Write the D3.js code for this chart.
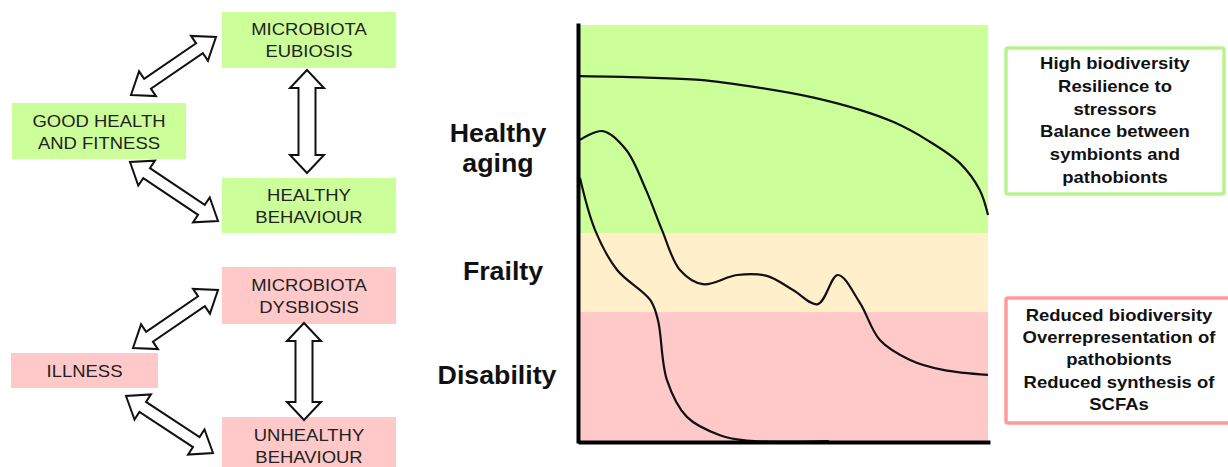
<!DOCTYPE html>
<html>
<head>
<meta charset="utf-8">
<script src="https://cdn.jsdelivr.net/npm/d3@7"></script>
<style>
  body { margin: 0; background: #fff; }
  svg { display: block; font-family: "Liberation Sans", Arial, sans-serif; }
</style>
</head>
<body>
<svg width="1228" height="467"></svg>
<script>
// band categories (y units 0-100) and their colours
var bandNames = ['Disability', 'Frailty', 'Healthy aging'];
var bandEdges = [0, 31, 50, 100];
var bandColors = ['#ffc9c9', '#fff0cb', '#ccff99'];

// three trajectories, x = time (0-100), y = health (0-100)
var curveHealthy = [[0, 87.7], [15, 87.4], [29.4, 86.8], [44.1, 84.9], [57, 82.6], [68.6, 79.6], [77, 76.6], [85, 72.4], [93.1, 66.8], [98, 60.3], [100, 54.3]];
var curveFrail = [[0, 72.4], [5.6, 74.5], [11.3, 70.0], [16.2, 60.3], [20.1, 50.7], [24.5, 41.1], [30.1, 37.7], [38.5, 39.9], [45.8, 39.7], [52.2, 36.3], [58.3, 32.9], [63.2, 39.9], [68.6, 33.2], [73.5, 24.3], [80.9, 19.5], [89.0, 17.1], [100, 15.9]];
var curveDisabled = [[0, 63.2], [3.7, 50.7], [9.1, 41.1], [17.2, 33.9], [19.1, 29.1], [21.3, 14.7], [26.2, 5.8], [34.3, 1.4], [40.9, 0.1], [61, 0]];

var goodLabels = [['MICROBIOTA', 'EUBIOSIS'], ['GOOD HEALTH', 'AND FITNESS'], ['HEALTHY', 'BEHAVIOUR']];
var badLabels = [['MICROBIOTA', 'DYSBIOSIS'], ['ILLNESS'], ['UNHEALTHY', 'BEHAVIOUR']];
var goodTraits = ['High biodiversity', 'Resilience to', 'stressors', 'Balance between', 'symbionts and', 'pathobionts'];
var badTraits = ['Reduced biodiversity', 'Overrepresentation of', 'pathobionts', 'Reduced synthesis of', 'SCFAs'];

var svg = d3.select('svg');

// ---------- left diagram ----------
// box layout: x, y, w, h, first baseline
var goodBoxes = [
  { x: 222, y: 12, w: 174, h: 56, b: 35 },
  { x: 12, y: 103, w: 174, h: 56, b: 127 },
  { x: 222, y: 178, w: 174, h: 55, b: 201 }
];
var badBoxes = [
  { x: 222, y: 267, w: 174, h: 57, b: 291 },
  { x: 11, y: 353, w: 147, h: 35, b: 377 },
  { x: 222, y: 417, w: 174, h: 60, b: 441 }
];

function drawBoxes(boxes, labels, fill) {
  var g = svg.append('g');
  boxes.forEach(function (b, i) {
    g.append('rect')
      .attr('x', b.x).attr('y', b.y)
      .attr('width', b.w).attr('height', b.h)
      .attr('fill', fill);
    labels[i].forEach(function (t, j) {
      g.append('text')
        .attr('transform', 'translate(' + (b.x + b.w / 2) + ',' + (b.b + j * 22) + ') scale(1.12,1)')
        .attr('text-anchor', 'middle')
        .attr('font-size', 16.5)
        .attr('fill', '#222')
        .text(t);
    });
  });
}
drawBoxes(goodBoxes, goodLabels, '#ccff99');
drawBoxes(badBoxes, badLabels, '#ffc9c9');

// double headed block arrows
function arrowPoints(p1, p2, sw, hw, hl) {
  var dx = p2[0] - p1[0], dy = p2[1] - p1[1];
  var len = Math.sqrt(dx * dx + dy * dy);
  var ux = dx / len, uy = dy / len, nx = -uy, ny = ux;
  function pt(base, along, side) {
    return [base[0] + ux * along + nx * side, base[1] + uy * along + ny * side];
  }
  return [
    p1,
    pt(p1, hl, hw / 2), pt(p1, hl, sw / 2),
    pt(p2, -hl, sw / 2), pt(p2, -hl, hw / 2),
    p2,
    pt(p2, -hl, -hw / 2), pt(p2, -hl, -sw / 2),
    pt(p1, hl, -sw / 2), pt(p1, hl, -hw / 2)
  ];
}

var arrows = [
  { a: [131, 95], b: [216, 37], sw: 12, hw: 30, hl: 20 },
  { a: [307, 70], b: [307, 173], sw: 17, hw: 34, hl: 18 },
  { a: [130, 162], b: [218, 221], sw: 12, hw: 30, hl: 20 },
  { a: [133, 348], b: [218, 290], sw: 12, hw: 30, hl: 20 },
  { a: [304, 323], b: [304, 420], sw: 17, hw: 34, hl: 18 },
  { a: [126, 396], b: [213, 453], sw: 12, hw: 30, hl: 20 }
];

svg.append('g').selectAll('polygon')
  .data(arrows)
  .enter()
  .append('polygon')
  .attr('points', function (d) {
    return arrowPoints(d.a, d.b, d.sw, d.hw, d.hl).map(function (p) { return p.join(','); }).join(' ');
  })
  .attr('fill', '#fff')
  .attr('stroke', '#111')
  .attr('stroke-width', 2)
  .attr('stroke-linejoin', 'miter');

// ---------- right chart ----------
var x = d3.scaleLinear().domain([0, 100]).range([580, 988]);
var y = d3.scaleLinear().domain([0, 100]).range([441, 25]);

var chart = svg.append('g');

chart.selectAll('rect.band')
  .data(bandNames)
  .enter()
  .append('rect')
  .attr('class', 'band')
  .attr('x', x(0))
  .attr('width', x(100) - x(0))
  .attr('y', function (d, i) { return y(bandEdges[i + 1]); })
  .attr('height', function (d, i) { return y(bandEdges[i]) - y(bandEdges[i + 1]); })
  .attr('fill', function (d, i) { return bandColors[i]; });

var line = d3.line()
  .x(function (d) { return x(d[0]); })
  .y(function (d) { return y(d[1]); })
  .curve(d3.curveCatmullRom.alpha(0.5));

[curveHealthy, curveFrail, curveDisabled].forEach(function (c) {
  chart.append('path')
    .datum(c)
    .attr('d', line)
    .attr('fill', 'none')
    .attr('stroke', '#111')
    .attr('stroke-width', 2.2);
});

// axes: plain thick lines, no ticks
chart.append('g')
  .attr('transform', 'translate(' + (x(0) - 2) + ',0)')
  .call(d3.axisLeft(y).ticks(0).tickSizeOuter(0))
  .select('.domain')
  .attr('stroke', '#000')
  .attr('stroke-width', 4)
  .attr('stroke-linecap', 'square');

chart.append('g')
  .attr('transform', 'translate(0,' + (y(0) + 1) + ')')
  .call(d3.axisBottom(x).ticks(0).tickSizeOuter(0))
  .select('.domain')
  .attr('stroke', '#000')
  .attr('stroke-width', 4)
  .attr('stroke-linecap', 'square');

// band labels left of the axis
var labelY = [15.8, 40.8, 70.5];
var labelX = [497, 503, 498];
var labelLines = [['Disability'], ['Frailty'], ['Healthy', 'aging']];
labelLines.forEach(function (lines, i) {
  var cy = y(labelY[i]);
  var n = lines.length;
  lines.forEach(function (t, j) {
    chart.append('text')
      .attr('transform', 'translate(' + labelX[i] + ',' + (cy + 9 + (j - (n - 1) / 2) * 30) + ') scale(1.07,1)')
      .attr('text-anchor', 'middle')
      .attr('font-size', 25)
      .attr('font-weight', 'bold')
      .attr('fill', '#111')
      .text(t);
  });
});

// trait boxes on the right
function traitBox(x0, y0, w, h, lines, stroke, firstBase, step) {
  svg.append('rect')
    .attr('x', x0).attr('y', y0)
    .attr('width', w).attr('height', h)
    .attr('fill', '#fff')
    .attr('stroke', stroke)
    .attr('stroke-width', 3.5)
    .attr('rx', 2);
  lines.forEach(function (t, j) {
    svg.append('text')
      .attr('transform', 'translate(' + (x0 + w / 2) + ',' + (firstBase + j * step) + ') scale(1.12,1)')
      .attr('text-anchor', 'middle')
      .attr('font-size', 16.5)
      .attr('font-weight', 'bold')
      .attr('fill', '#111')
      .text(t);
  });
}
traitBox(1006, 48, 218, 146, goodTraits, '#b9f28f', 69, 22.8);
traitBox(1006, 298, 226, 125, badTraits, '#ff9a9a', 321, 22.2);
</script>
</body>
</html>
